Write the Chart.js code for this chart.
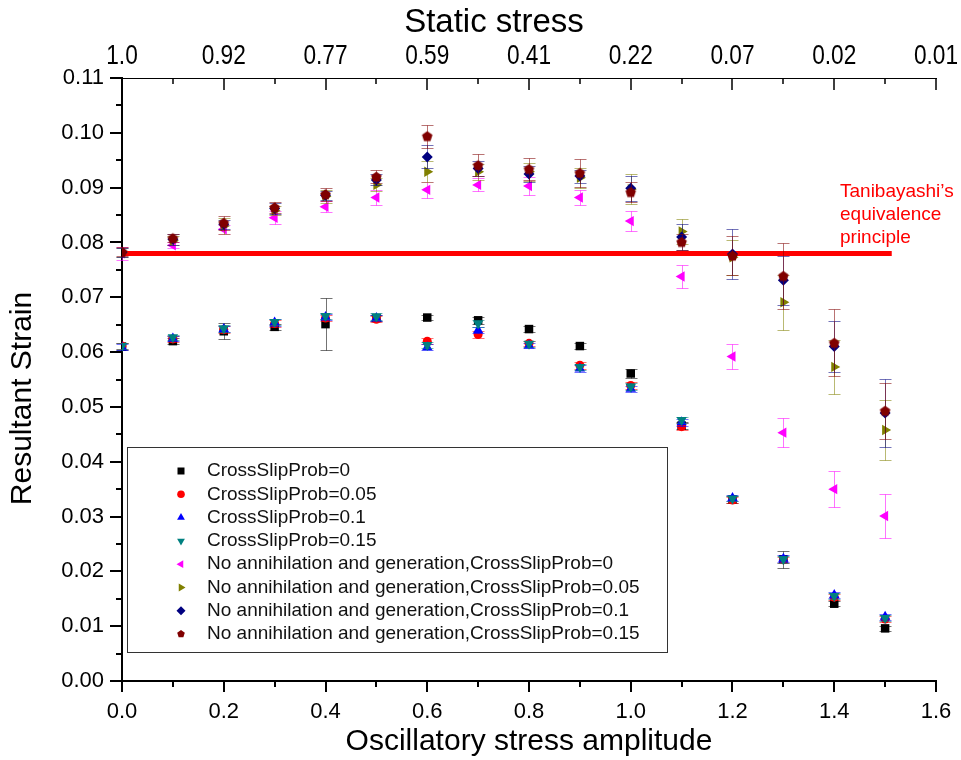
<!DOCTYPE html>
<html>
<head>
<meta charset="utf-8">
<script src="https://cdn.jsdelivr.net/npm/chart.js@4.4.0/dist/chart.umd.min.js"></script>
<style>
  body { margin: 0; background: #fff; }
  #wrap { width: 961px; height: 760px; position: relative; }
</style>
</head>
<body>
<div id="wrap"><canvas id="strainChart"></canvas></div>
<script>
// oscillatory stress amplitude (bottom axis)
const amplitude = [0.0, 0.1, 0.2, 0.3, 0.4, 0.5, 0.6, 0.7, 0.8, 0.9, 1.0, 1.1, 1.2, 1.3, 1.4, 1.5];
// static stress labels on the top axis, one every 0.2
const topLabels = ['1.0', '0.92', '0.77', '0.59', '0.41', '0.22', '0.07', '0.02', '0.01'];

const seriesNames = [
    'CrossSlipProb=0',
    'CrossSlipProb=0.05',
    'CrossSlipProb=0.1',
    'CrossSlipProb=0.15',
    'No annihilation and generation,CrossSlipProb=0',
    'No annihilation and generation,CrossSlipProb=0.05',
    'No annihilation and generation,CrossSlipProb=0.1',
    'No annihilation and generation,CrossSlipProb=0.15'
];

const csp0    = [0.0610, 0.0620, 0.0638, 0.0646, 0.0651, 0.0662, 0.0663, 0.0658, 0.0642, 0.0611, 0.0561, 0.0466, 0.0331, 0.0222, 0.0141, 0.0096];
const csp005  = [0.0611, 0.0624, 0.0641, 0.0652, 0.0662, 0.0660, 0.0620, 0.0632, 0.0616, 0.0576, 0.0539, 0.0464, 0.0330, 0.0221, 0.0153, 0.0113];
const csp01   = [0.0609, 0.0625, 0.0642, 0.0654, 0.0664, 0.0662, 0.0609, 0.0640, 0.0612, 0.0570, 0.0533, 0.0472, 0.0334, 0.0223, 0.0157, 0.0117];
const csp015  = [0.0611, 0.0627, 0.0643, 0.0655, 0.0666, 0.0665, 0.0613, 0.0652, 0.0615, 0.0573, 0.0537, 0.0476, 0.0333, 0.0222, 0.0155, 0.0115];
const noAG0   = [0.0780, 0.0795, 0.0824, 0.0845, 0.0865, 0.0882, 0.0896, 0.0905, 0.0903, 0.0882, 0.0839, 0.0738, 0.0592, 0.0453, 0.0350, 0.0301];
const noAG005 = [0.0782, 0.0803, 0.0830, 0.0858, 0.0884, 0.0905, 0.0929, 0.0929, 0.0929, 0.0918, 0.0897, 0.0820, 0.0773, 0.0691, 0.0573, 0.0458];
const noAG01  = [0.0782, 0.0806, 0.0833, 0.0862, 0.0886, 0.0914, 0.0956, 0.0935, 0.0925, 0.0921, 0.0899, 0.0810, 0.0779, 0.0731, 0.0610, 0.0489];
const noAG015 = [0.0783, 0.0808, 0.0836, 0.0864, 0.0888, 0.0920, 0.0994, 0.0941, 0.0934, 0.0927, 0.0892, 0.0801, 0.0776, 0.0739, 0.0617, 0.0493];

// half widths of the error bars
const csp0Err    = [0.0006, 0.0005, 0.0015, 0.0006, 0.0047, 0.0005, 0.0005, 0.0006, 0.0005, 0.0005, 0.0008, 0.0006, 0.0006, 0.0016, 0.0005, 0.0005];
const csp005Err  = [0.0006, 0.0005, 0.0006, 0.0006, 0.0006, 0.0006, 0.0006, 0.0006, 0.0005, 0.0006, 0.0006, 0.0006, 0.0005, 0.0006, 0.0005, 0.0006];
const csp01Err   = [0.0006, 0.0005, 0.0006, 0.0007, 0.0006, 0.0006, 0.0006, 0.0006, 0.0005, 0.0006, 0.0006, 0.0006, 0.0006, 0.0006, 0.0006, 0.0006];
const csp015Err  = [0.0006, 0.0005, 0.0006, 0.0006, 0.0006, 0.0006, 0.0006, 0.0006, 0.0005, 0.0006, 0.0006, 0.0006, 0.0005, 0.0006, 0.0005, 0.0005];
const noAG0Err   = [0.0012, 0.0005, 0.0008, 0.0012, 0.0010, 0.0013, 0.0014, 0.0012, 0.0017, 0.0014, 0.0018, 0.0021, 0.0022, 0.0027, 0.0033, 0.0041];
const noAG005Err = [0.0008, 0.0008, 0.0015, 0.0008, 0.0012, 0.0012, 0.0019, 0.0015, 0.0016, 0.0018, 0.0027, 0.0022, 0.0032, 0.0050, 0.0049, 0.0055];
const noAG01Err  = [0.0008, 0.0010, 0.0008, 0.0010, 0.0008, 0.0010, 0.0021, 0.0014, 0.0014, 0.0012, 0.0023, 0.0024, 0.0046, 0.0045, 0.0047, 0.0062];
const noAG015Err = [0.0008, 0.0008, 0.0013, 0.0010, 0.0012, 0.0012, 0.0021, 0.0020, 0.0020, 0.0025, 0.0018, 0.0015, 0.0035, 0.0060, 0.0061, 0.0051];

// Tanibayashi's equivalence principle line
const refStrain = 0.078;
const refRange = [0.0, 1.513];

const seriesVals = [csp0, csp005, csp01, csp015, noAG0, noAG005, noAG01, noAG015];
const seriesErr = [csp0Err, csp005Err, csp01Err, csp015Err, noAG0Err, noAG005Err, noAG01Err, noAG015Err];

const colors = ['#000000', '#ff0000', '#0000ff', '#008080', '#ff00ff', '#808000', '#000080', '#800000'];
const marks = ['square', 'circle', 'up', 'down', 'left', 'right', 'diamond', 'pentagon'];

const FONT = '"Liberation Sans", Arial, sans-serif';

function pentagonCanvas(r, color) {
    const c = document.createElement('canvas');
    const s = Math.ceil(r * 2) + 2;
    c.width = s; c.height = s;
    const g = c.getContext('2d');
    g.fillStyle = color;
    g.beginPath();
    for (let k = 0; k < 5; k++) {
        const a = -Math.PI / 2 + k * 2 * Math.PI / 5;
        const px = s / 2 + r * Math.cos(a), py = s / 2 + 0.5 + r * Math.sin(a);
        if (k) g.lineTo(px, py); else g.moveTo(px, py);
    }
    g.closePath();
    g.fill();
    return c;
}

function markStyle(kind, color) {
    switch (kind) {
        case 'square':  return { pointStyle: 'rect', rotation: 0, radius: 6 };
        case 'circle':  return { pointStyle: 'circle', rotation: 0, radius: 4.5 };
        case 'up':      return { pointStyle: 'triangle', rotation: 0, radius: 6 };
        case 'down':    return { pointStyle: 'triangle', rotation: 180, radius: 6 };
        case 'left':    return { pointStyle: 'triangle', rotation: -90, radius: 6 };
        case 'right':   return { pointStyle: 'triangle', rotation: 90, radius: 6 };
        case 'diamond': return { pointStyle: 'rectRot', rotation: 0, radius: 5.5 };
        default:        return { pointStyle: pentagonCanvas(5.5, color), rotation: 0, radius: 5.5 };
    }
}

// small markers for the legend box
function drawLegendMark(ctx, kind, x, y, color) {
    const r = 4;
    ctx.fillStyle = color;
    ctx.beginPath();
    const poly = (n, start, rad) => {
        for (let k = 0; k < n; k++) {
            const a = start + k * 2 * Math.PI / n;
            const px = x + rad * Math.cos(a), py = y + rad * Math.sin(a);
            if (k) ctx.lineTo(px, py); else ctx.moveTo(px, py);
        }
        ctx.closePath();
    };
    if (kind === 'square') ctx.rect(x - 3.5, y - 3.5, 7, 7);
    else if (kind === 'circle') ctx.arc(x, y, 3.8, 0, Math.PI * 2);
    else if (kind === 'up') poly(3, -Math.PI / 2, r + 0.5);
    else if (kind === 'down') poly(3, Math.PI / 2, r + 0.5);
    else if (kind === 'left') poly(3, Math.PI, r + 0.5);
    else if (kind === 'right') poly(3, 0, r + 0.5);
    else if (kind === 'diamond') poly(4, -Math.PI / 2, r + 0.5);
    else poly(5, -Math.PI / 2, r);
    ctx.fill();
}

const datasets = seriesVals.map((vals, i) => {
    const m = markStyle(marks[i], colors[i]);
    return {
        label: seriesNames[i],
        data: amplitude.map((x, j) => ({ x: x, y: vals[j] })),
        pointStyle: m.pointStyle,
        pointRotation: m.rotation,
        pointRadius: m.radius,
        pointHoverRadius: m.radius,
        backgroundColor: colors[i],
        borderColor: colors[i],
        pointBorderWidth: 0,
        showLine: false,
        order: 10 - i
    };
});

datasets.push({
    label: 'Tanibayashi',
    data: refRange.map(x => ({ x: x, y: refStrain })),
    showLine: true,
    borderColor: '#ff0000',
    borderWidth: 5,
    pointRadius: 0,
    order: 100
});

const errorBars = {
    id: 'errorBars',
    beforeDatasetDraw(chart, args) {
        const errs = seriesErr[args.index];
        if (!errs) return;
        const vals = seriesVals[args.index];
        const { ctx } = chart;
        const xs = chart.scales.x, ys = chart.scales.y;
        ctx.save();
        ctx.strokeStyle = colors[args.index];
        ctx.globalAlpha = 0.55;
        ctx.lineWidth = 1;
        ctx.beginPath();
        amplitude.forEach((xv, j) => {
            const px = Math.round(xs.getPixelForValue(xv)) + 0.5;
            const y1 = Math.round(ys.getPixelForValue(vals[j] + errs[j])) + 0.5;
            const y2 = Math.round(ys.getPixelForValue(vals[j] - errs[j])) + 0.5;
            ctx.moveTo(px, y1); ctx.lineTo(px, y2);
            ctx.moveTo(px - 6, y1); ctx.lineTo(px + 6, y1);
            ctx.moveTo(px - 6, y2); ctx.lineTo(px + 6, y2);
        });
        ctx.stroke();
        ctx.restore();
    }
};

// major / minor tick marks, top labels, titles, annotation and legend
const axisTicks = {
    id: 'axisTicks',
    afterDraw(chart) {
        const { ctx, chartArea: a, scales } = chart;
        const withMinor = (scale) => {
            const major = scale.ticks.map(t => t.value);
            const minor = [];
            for (let k = 0; k < major.length - 1; k++) minor.push((major[k] + major[k + 1]) / 2);
            return { major, minor };
        };
        ctx.save();
        ctx.strokeStyle = '#000';
        ctx.beginPath();
        ctx.lineWidth = 2;
        const yt = withMinor(scales.y);
        yt.major.forEach(v => { const p = Math.round(scales.y.getPixelForValue(v)); ctx.moveTo(a.left, p); ctx.lineTo(a.left - 12, p); });
        yt.minor.forEach(v => { const p = Math.round(scales.y.getPixelForValue(v)); ctx.moveTo(a.left, p); ctx.lineTo(a.left - 6, p); });
        const xt = withMinor(scales.x);
        xt.major.forEach(v => { const p = Math.round(scales.x.getPixelForValue(v)); ctx.moveTo(p, a.bottom); ctx.lineTo(p, a.bottom + 11); });
        xt.minor.forEach(v => { const p = Math.round(scales.x.getPixelForValue(v)); ctx.moveTo(p, a.bottom); ctx.lineTo(p, a.bottom + 6); });
        ctx.stroke();
        ctx.beginPath();
        ctx.lineWidth = 1.5;
        const tt = withMinor(scales.x2);
        tt.major.forEach(v => { const p = Math.round(scales.x2.getPixelForValue(v)); ctx.moveTo(p, a.top); ctx.lineTo(p, a.top + 12); });
        tt.minor.forEach(v => { const p = Math.round(scales.x2.getPixelForValue(v)); ctx.moveTo(p, a.top); ctx.lineTo(p, a.top + 6); });
        ctx.stroke();

        // condensed static stress labels on the top axis
        ctx.fillStyle = '#000';
        ctx.font = '27px ' + FONT;
        ctx.textAlign = 'center';
        ctx.textBaseline = 'alphabetic';
        tt.major.forEach(v => {
            const label = topLabels[Math.round(v / 0.2)];
            if (!label) return;
            ctx.save();
            ctx.translate(scales.x2.getPixelForValue(v), a.top - 14);
            ctx.scale(0.84, 1);
            ctx.fillText(label, 0, 0);
            ctx.restore();
        });

        // top title
        ctx.font = '33px ' + FONT;
        ctx.fillText('Static stress', a.left + 372, 32);

        // y title
        ctx.save();
        ctx.font = '30px ' + FONT;
        ctx.textBaseline = 'middle';
        ctx.translate(23, (a.top + a.bottom) / 2 + 19);
        ctx.rotate(-Math.PI / 2);
        ctx.fillText('Resultant Strain', 0, 0);
        ctx.restore();

        // annotation next to the red line
        const ly = scales.y.getPixelForValue(refStrain);
        ctx.fillStyle = '#ff0000';
        ctx.font = '19px ' + FONT;
        ctx.textAlign = 'left';
        const ax = a.left + 718;
        ctx.fillText('Tanibayashi\u2019s', ax, ly - 56);
        ctx.fillText('equivalence', ax, ly - 33);
        ctx.fillText('principle', ax, ly - 10);

        // legend box
        const bx = a.left + 5, by = a.top + 369, bw = 540, bh = 205;
        ctx.strokeStyle = '#333';
        ctx.lineWidth = 1;
        ctx.strokeRect(bx + 0.5, by + 0.5, bw, bh);
        ctx.font = '19px ' + FONT;
        ctx.textBaseline = 'middle';
        seriesNames.forEach((name, i) => {
            const ry = by + 24 + i * 23.3;
            drawLegendMark(ctx, marks[i], bx + 54, ry, colors[i]);
            ctx.fillStyle = '#111';
            ctx.fillText(name, bx + 80, ry);
        });
        ctx.restore();
    }
};

new Chart(document.getElementById('strainChart'), {
    type: 'scatter',
    data: { datasets: datasets },
    options: {
        responsive: true,
        maintainAspectRatio: false,
        animation: false,
        layout: { padding: { left: 0, right: 25, top: 0, bottom: 0 } },
        plugins: {
            legend: { display: false },
            tooltip: { enabled: false }
        },
        scales: {
            x: {
                type: 'linear',
                position: 'bottom',
                min: 0,
                max: 1.6,
                afterFit: s => { s.height = 79; s.paddingLeft = 0; s.paddingRight = 0; },
                grid: { display: false, drawTicks: false },
                border: { display: true, color: '#000', width: 2 },
                ticks: {
                    stepSize: 0.2,
                    padding: 18,
                    autoSkip: false,
                    maxRotation: 0,
                    color: '#000',
                    font: { family: FONT, size: 22 },
                    callback: v => v.toFixed(1)
                },
                title: {
                    display: true,
                    text: 'Oscillatory stress amplitude',
                    color: '#000',
                    font: { family: FONT, size: 30 },
                    padding: { top: 0, bottom: 0 }
                }
            },
            x2: {
                type: 'linear',
                position: 'top',
                min: 0,
                max: 1.6,
                afterFit: s => { s.height = 78; s.paddingLeft = 0; s.paddingRight = 0; },
                grid: { display: false, drawTicks: false },
                border: { display: true, color: '#000', width: 1 },
                ticks: {
                    display: false,
                    stepSize: 0.2,
                    autoSkip: false
                }
            },
            y: {
                type: 'linear',
                min: 0,
                max: 0.11,
                afterFit: s => { s.width = 122; },
                grid: { display: false, drawTicks: false },
                border: { display: true, color: '#000', width: 2 },
                ticks: {
                    stepSize: 0.01,
                    padding: 18,
                    color: '#000',
                    font: { family: FONT, size: 22 },
                    callback: v => v.toFixed(2)
                }
            }
        }
    },
    plugins: [errorBars, axisTicks]
});
</script>
</body>
</html>
